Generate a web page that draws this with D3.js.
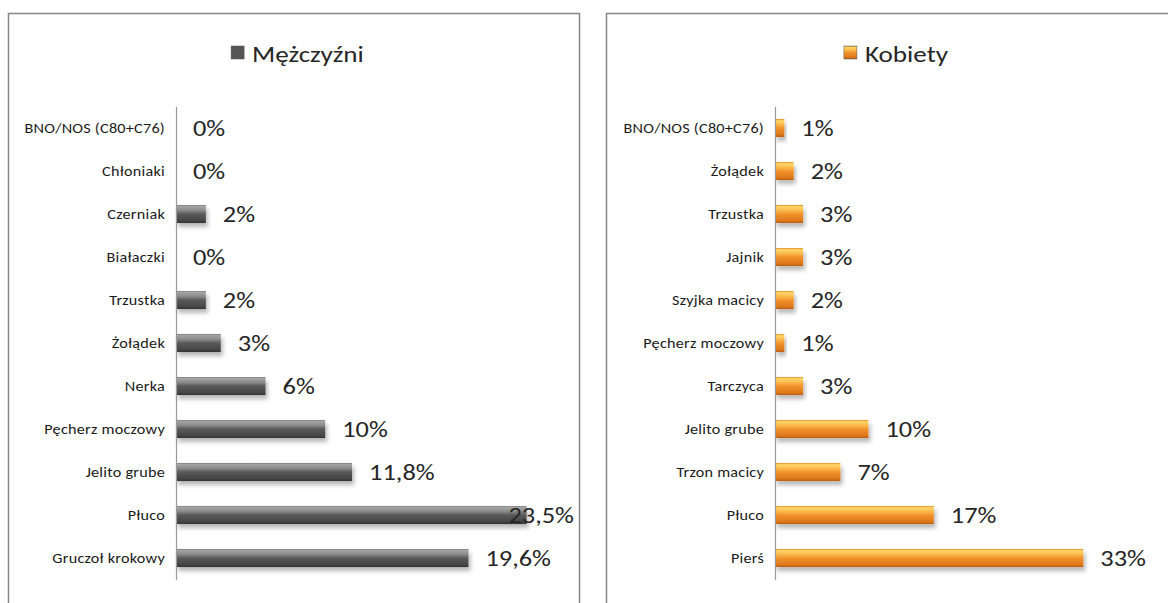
<!DOCTYPE html>
<html><head><meta charset="utf-8">
<script src="https://cdn.jsdelivr.net/npm/d3@7"></script>
<style>
html,body{margin:0;padding:0;background:#fff;}
svg{display:block;}
text{font-family:Carlito, Lato, "Liberation Sans", sans-serif;}
</style></head>
<body>
<svg id="c" width="1168" height="603"></svg>
<script>
const maleCategories = ["BNO/NOS (C80+C76)","Chłoniaki","Czerniak","Białaczki","Trzustka","Żołądek","Nerka","Pęcherz moczowy","Jelito grube","Płuco","Gruczoł krokowy"];
const maleValues = [0,0,2,0,2,3,6,10,11.8,23.5,19.6];
const femaleCategories = ["BNO/NOS (C80+C76)","Żołądek","Trzustka","Jajnik","Szyjka macicy","Pęcherz moczowy","Tarczyca","Jelito grube","Trzon macicy","Płuco","Pierś"];
const femaleValues = [1,2,3,3,2,1,3,10,7,17,33];
const maleTitle = "Mężczyźni";
const femaleTitle = "Kobiety";

const svg = d3.select("#c");
const defs = svg.append("defs");
const SX = 1.2; // horizontal stretch of the original picture

function grad(id, stops){
  const g = defs.append("linearGradient").attr("id",id).attr("x1",0).attr("y1",0).attr("x2",0).attr("y2",1);
  stops.forEach(s=>g.append("stop").attr("offset",s[0]).attr("stop-color",s[1]));
}
grad("gGrey",[[0,"#7c7c7c"],[0.08,"#a4a4a4"],[0.3,"#8a8a8a"],[0.5,"#5a5a5a"],[0.85,"#474747"],[1,"#333333"]]);
grad("gOrange",[[0,"#e58a2a"],[0.1,"#ffd86a"],[0.32,"#fbb548"],[0.55,"#ef8e28"],[0.85,"#e07a1c"],[1,"#b85e14"]]);
const f = defs.append("filter").attr("id","sh").attr("x","-10%").attr("y","-30%").attr("width","130%").attr("height","190%");
f.append("feDropShadow").attr("dx",2).attr("dy",4).attr("stdDeviation",2.2).attr("flood-color","#000").attr("flood-opacity",0.28);

function panel(opts){
  const {left, width, axisX, xMax, xRight, cats, vals, title, fill, marker, labelRight} = opts;
  const g = svg.append("g");
  g.append("rect").attr("x",left+0.5).attr("y",13.5).attr("width",width).attr("height",640)
    .attr("fill","#fff").attr("stroke","#868686").attr("stroke-width",1.5);

  const y = d3.scalePoint().domain(cats).range([106.5,579.5]).padding(0.5);
  const x = d3.scaleLinear().domain([0,xMax]).range([axisX,xRight]);
  const bh = y.step()*0.42;

  // legend/title
  const lg = g.append("g");
  const t = lg.append("text").attr("x",0).attr("y",62).attr("font-size",23).attr("fill","#262626").text(title);
  const tw = t.node().getComputedTextLength()*1.18;
  const total = 13 + 8 + tw;
  const cx = left + width/2 + 4;
  lg.attr("transform",`translate(${cx-total/2},0)`);
  t.attr("transform","translate(21,0) scale(1.18,1)");
  lg.append("rect").attr("x",0).attr("y",46).attr("width",13).attr("height",13).attr("fill",marker).attr("stroke","#555").attr("stroke-width",0.5);

  // bars
  g.selectAll(".bar").data(vals).enter().append("rect")
    .attr("x",axisX).attr("y",(d,i)=>y(cats[i])-bh/2)
    .attr("width",d=>Math.max(0,x(d)-axisX)).attr("height",bh)
    .attr("fill",fill).attr("filter","url(#sh)");

  // axis
  const ax = g.append("g").attr("transform",`translate(${axisX},0)`)
    .call(d3.axisLeft(y).tickSize(0).tickPadding(11));
  ax.select(".domain").attr("stroke","#9a9a9a").attr("stroke-width",1.2);
  ax.selectAll(".tick text").attr("font-size",13.5).attr("fill","#1a1a1a").attr("letter-spacing","0.2px")
    .style("font-family","Carlito, Lato, 'Liberation Sans', sans-serif")
    .attr("x",-11/1.2).attr("transform","scale(1.2,1)");

  // value labels
  g.selectAll(".val").data(vals).enter().append("text")
    .attr("font-size",22).attr("fill","#262626")
    .text(d=>String(d).replace(".",",")+"%")
    .attr("dy","0.36em")
    .each(function(d,i){
      const w = this.getComputedTextLength()*SX;
      const lx = Math.min(x(d)+17, labelRight - w);
      d3.select(this).attr("transform",`translate(${lx},${y(cats[i])}) scale(${SX},1)`);
    });
}

panel({left:8, width:571, axisX:176, xMax:25, xRight:549, cats:maleCategories, vals:maleValues,
  title:maleTitle, fill:"url(#gGrey)", marker:"#555", labelRight:574});
panel({left:606, width:572, axisX:775, xMax:35, xRight:1102, cats:femaleCategories, vals:femaleValues,
  title:femaleTitle, fill:"url(#gOrange)", marker:"url(#gOrange)", labelRight:1166});
</script>
</body></html>
